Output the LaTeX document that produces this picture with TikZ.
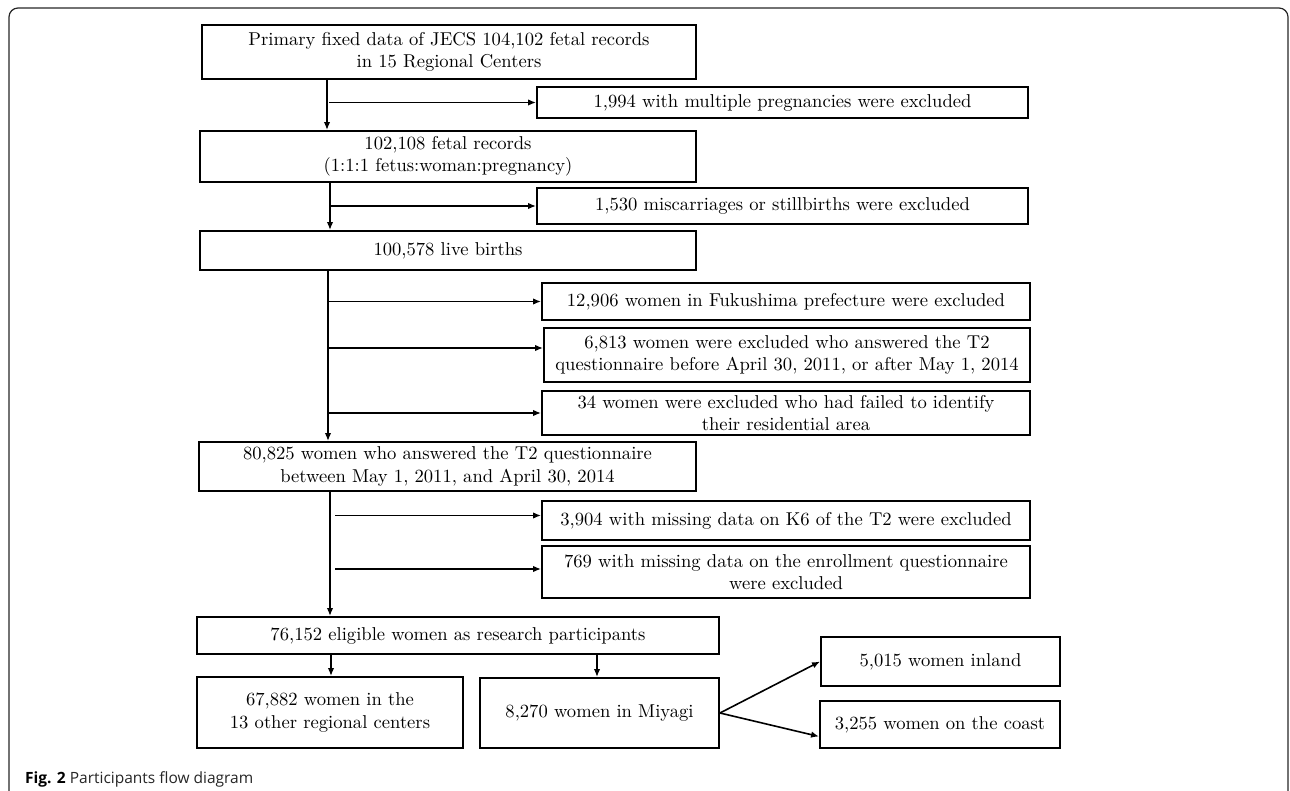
\documentclass[tikz,border=0pt]{standalone}
\usetikzlibrary{arrows.meta}
\usepackage{fontspec}
\newfontfamily\capfont{Open Sans}
\newfontfamily\boxfont{lmroman10-regular.otf}
\begin{document}
\begin{tikzpicture}[x=1pt,y=-1pt,
  box/.style={draw, line width=1.9pt, inner sep=0pt, align=center, font=\boxfont\fontsize{18.6}{22.5}\selectfont, text=black},
  arr/.style={line width=1.6pt, -{Latex[length=8pt,width=6.5pt]}},
  frame/.style={line width=1.2pt, draw=black!85, rounded corners=9pt}]
\useasboundingbox (0,0) rectangle (1290,791);
% outer frame
\draw[frame] (9,791) -- (9,8) -- (1288,8) -- (1288,791);

% main column
\node[box, minimum width=494pt, minimum height=54pt] (b1) at (449,52)
  {Primary fixed data of JECS 104,102 fetal records\\in 15 Regional Centers};
\node[box, minimum width=496pt, minimum height=51pt] (b2) at (448,156.5)
  {102,108 fetal records\\(1:1:1 fetus:woman:pregnancy)};
\node[box, minimum width=496pt, minimum height=39pt] (b3) at (448,250.5)
  {100,578 live births};
\node[box, minimum width=497pt, minimum height=49pt] (b4) at (447.5,466.5)
  {80,825 women who answered the T2 questionnaire\\between May 1, 2011, and April 30, 2014};
\node[box, minimum width=522pt, minimum height=37pt] (b5) at (458,635.5)
  {76,152 eligible women as research participants};
\node[box, minimum width=266pt, minimum height=71pt] (b6) at (330,712.5)
  {67,882 women in the\\13 other regional centers};
\node[box, minimum width=239pt, minimum height=70pt] (b7) at (599.5,713)
  {8,270 women in Miyagi};
\node[box, minimum width=239pt, minimum height=49pt] (b8) at (940.5,661.5)
  {5,015 women inland};
\node[box, minimum width=240pt, minimum height=47pt] (b9) at (940,724.5)
  {3,255 women on the coast};

% exclusion boxes
\node[box, minimum width=491pt, minimum height=31pt] (e1) at (782.5,102.5)
  {1,994 with multiple pregnancies were excluded};
\node[box, minimum width=491pt, minimum height=36pt] (e2) at (782.5,206)
  {1,530 miscarriages or stillbirths were excluded};
\node[box, minimum width=488pt, minimum height=37pt] (e3) at (786,301.5)
  {12,906 women in Fukushima prefecture were excluded};
\node[box, minimum width=486pt, minimum height=54pt] (e4) at (787,355)
  {6,813 women were excluded who answered the T2\\questionnaire before April 30, 2011, or after May 1, 2014};
\node[box, minimum width=488pt, minimum height=44pt] (e5) at (786,413)
  {34 women were excluded who had failed to identify\\their residential area};
\node[box, minimum width=488pt, minimum height=39pt] (e6) at (786,520.5)
  {3,904 with missing data on K6 of the T2 were excluded};
\node[box, minimum width=488pt, minimum height=52pt] (e7) at (786,572)
  {769 with missing data on the enrollment questionnaire\\were excluded};

% trunk and branch x positions
\coordinate (t1) at (327,0);
\coordinate (h1) at (329,0);
\coordinate (t2) at (330,0);
\coordinate (t3) at (328,0);
\coordinate (t4) at (330,0);
\coordinate (h4) at (335,0);
\coordinate (t5) at (331,0);
\coordinate (t6) at (597,0);

\draw[arr] (b1.south -| t1) -- (b2.north -| t1);
\draw[arr] (e1.west -| h1) -- (e1.west);

\draw[arr] (b2.south -| t2) -- (b3.north -| t2);
\draw[arr] (e2.west -| t2) -- (e2.west);

\draw[arr] (b3.south -| t3) -- (b4.north -| t3);
\draw[arr] (e3.west -| t3) -- (e3.west);
\draw[arr] ([yshift=7pt]e4.west -| t3) -- ([yshift=7pt]e4.west);
\draw[arr] (e5.west -| t3) -- (e5.west);

\draw[arr] (b4.south -| t4) -- (b5.north -| t4);
\draw[arr] ([yshift=5pt]e6.west -| h4) -- ([yshift=5pt]e6.west);
\draw[arr] ([yshift=3pt]e7.west -| h4) -- ([yshift=3pt]e7.west);

\draw[arr] (b5.south -| t5) -- (b6.north -| t5);
\draw[arr] (b5.south -| t6) -- (b7.north -| t6);

\draw[arr] (b7.east) -- (b8.west);
\draw[arr] (b7.east) -- ([yshift=-12pt]b9.west);

% caption
\node[anchor=base west, inner sep=0pt, font=\capfont\fontsize{15.5}{18}\selectfont, text=black!85] (cap) at (25,783)
  {\textbf{\color{black}Fig. 2} Participants flow diagram};
\end{tikzpicture}
\end{document}
